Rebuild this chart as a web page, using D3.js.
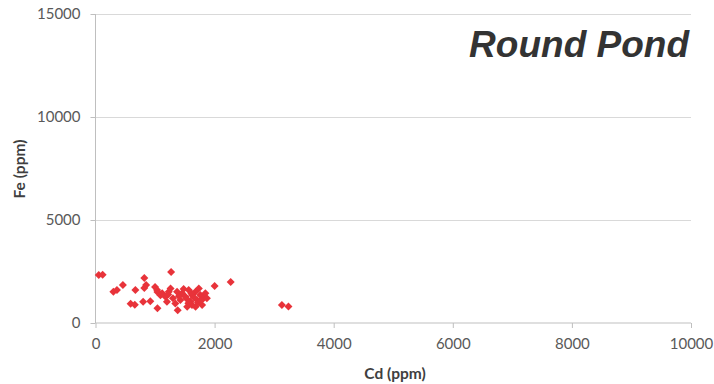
<!DOCTYPE html>
<html><head><meta charset="utf-8">
<script src="https://cdn.jsdelivr.net/npm/d3@7"></script>
<style>body{margin:0;background:#fff}svg{display:block}</style>
</head><body>
<svg id="c" width="714" height="384"></svg>
<script>
const title = "Round Pond";
const xLabel = "Cd (ppm)";
const yLabel = "Fe (ppm)";
const xTicks = [0, 2000, 4000, 6000, 8000, 10000];
const yTicks = [0, 5000, 10000, 15000];
const cd = [55,120,300,360,460,670,590,660,820,820,850,800,920,1000,1040,1090,1040,1270,1380,2000,2270,3130,3240,
  1175,1230,1300,1370,1455,1425,1340,1510,1565,1620,1595,1540,1680,1735,1760,1815,1705,1790,1680,1845,1620,1200,1260,1120,1480,1870,1035,
  1220,1400,1530,1650,1720,1560,1610,1770];
const fe = [2330,2340,1520,1600,1850,1600,930,880,2180,1700,1840,1030,1050,1750,1500,1350,720,2480,620,1800,1990,870,800,
  1280,1520,1200,1520,1440,1120,950,1280,1600,1360,1030,790,1520,1680,1360,1200,1120,870,790,1440,870,1030,1680,1440,1650,1200,1600,
  1380,1300,1180,1250,1000,960,1450,1100];

const svg = d3.select("#c");
const x = d3.scaleLinear().domain([0, 10000]).range([95.5, 691]);
const y = d3.scaleLinear().domain([0, 15000]).range([323, 14]);
const tickFont = "Lato, 'Open Sans', sans-serif";

// gridlines
svg.append("g").selectAll("line").data(yTicks.filter(d => d > 0)).join("line")
  .attr("x1", x(0)).attr("x2", x(10000)).attr("y1", d => Math.round(y(d)) + 0.5).attr("y2", d => Math.round(y(d)) + 0.5)
  .attr("stroke", "#d9d9d9").attr("stroke-width", 1);

// y axis
const ya = svg.append("g").attr("transform", `translate(${x(0)},0)`)
  .call(d3.axisLeft(y).tickValues(yTicks).tickSize(5).tickPadding(10).tickFormat(d3.format("d")));
ya.select(".domain").attr("stroke", "#bfbfbf").attr("d", `M0,${y(0)}V${y(15000)}`);
ya.selectAll(".tick line").attr("stroke", "#bfbfbf");
ya.selectAll("text").attr("fill", "#595959").style("font-family", tickFont).style("font-size", "15px");

// x axis
const xa = svg.append("g").attr("transform", `translate(0,${y(0)})`)
  .call(d3.axisBottom(x).tickValues(xTicks).tickSize(5).tickPadding(10).tickFormat(d3.format("d")));
xa.select(".domain").attr("stroke", "#bfbfbf").attr("d", `M${x(0)},0H${x(10000)}`);
xa.selectAll(".tick line").attr("stroke", "#bfbfbf");
xa.selectAll("text").attr("fill", "#595959").style("font-family", tickFont).style("font-size", "15px");

// points
const data = cd.map((v, i) => ({cd: v, fe: fe[i]}));
const sym = d3.symbol().type(d3.symbolSquare).size(32);
svg.append("g").selectAll("path").data(data).join("path")
  .attr("d", sym)
  .attr("transform", d => `translate(${x(d.cd)},${y(d.fe)}) rotate(45)`)
  .attr("fill", "#e8333a");

// axis titles
svg.append("text").attr("x", 395).attr("y", 379).attr("text-anchor", "middle")
  .style("font-family", tickFont).style("font-weight", "bold").style("font-size", "15.5px").attr("fill", "#404040")
  .text(xLabel);
svg.append("text").attr("transform", "translate(25,169) rotate(-90)").attr("text-anchor", "middle")
  .style("font-family", tickFont).style("font-weight", "bold").style("font-size", "15.5px").attr("fill", "#404040")
  .text(yLabel);

// title
svg.append("text").attr("x", 689).attr("y", 57).attr("text-anchor", "end")
  .style("font-family", "'Liberation Sans', Arial, sans-serif").style("font-weight", "bold").style("font-style", "italic")
  .style("font-size", "37px").attr("fill", "#333333").text(title);
</script>
</body></html>
